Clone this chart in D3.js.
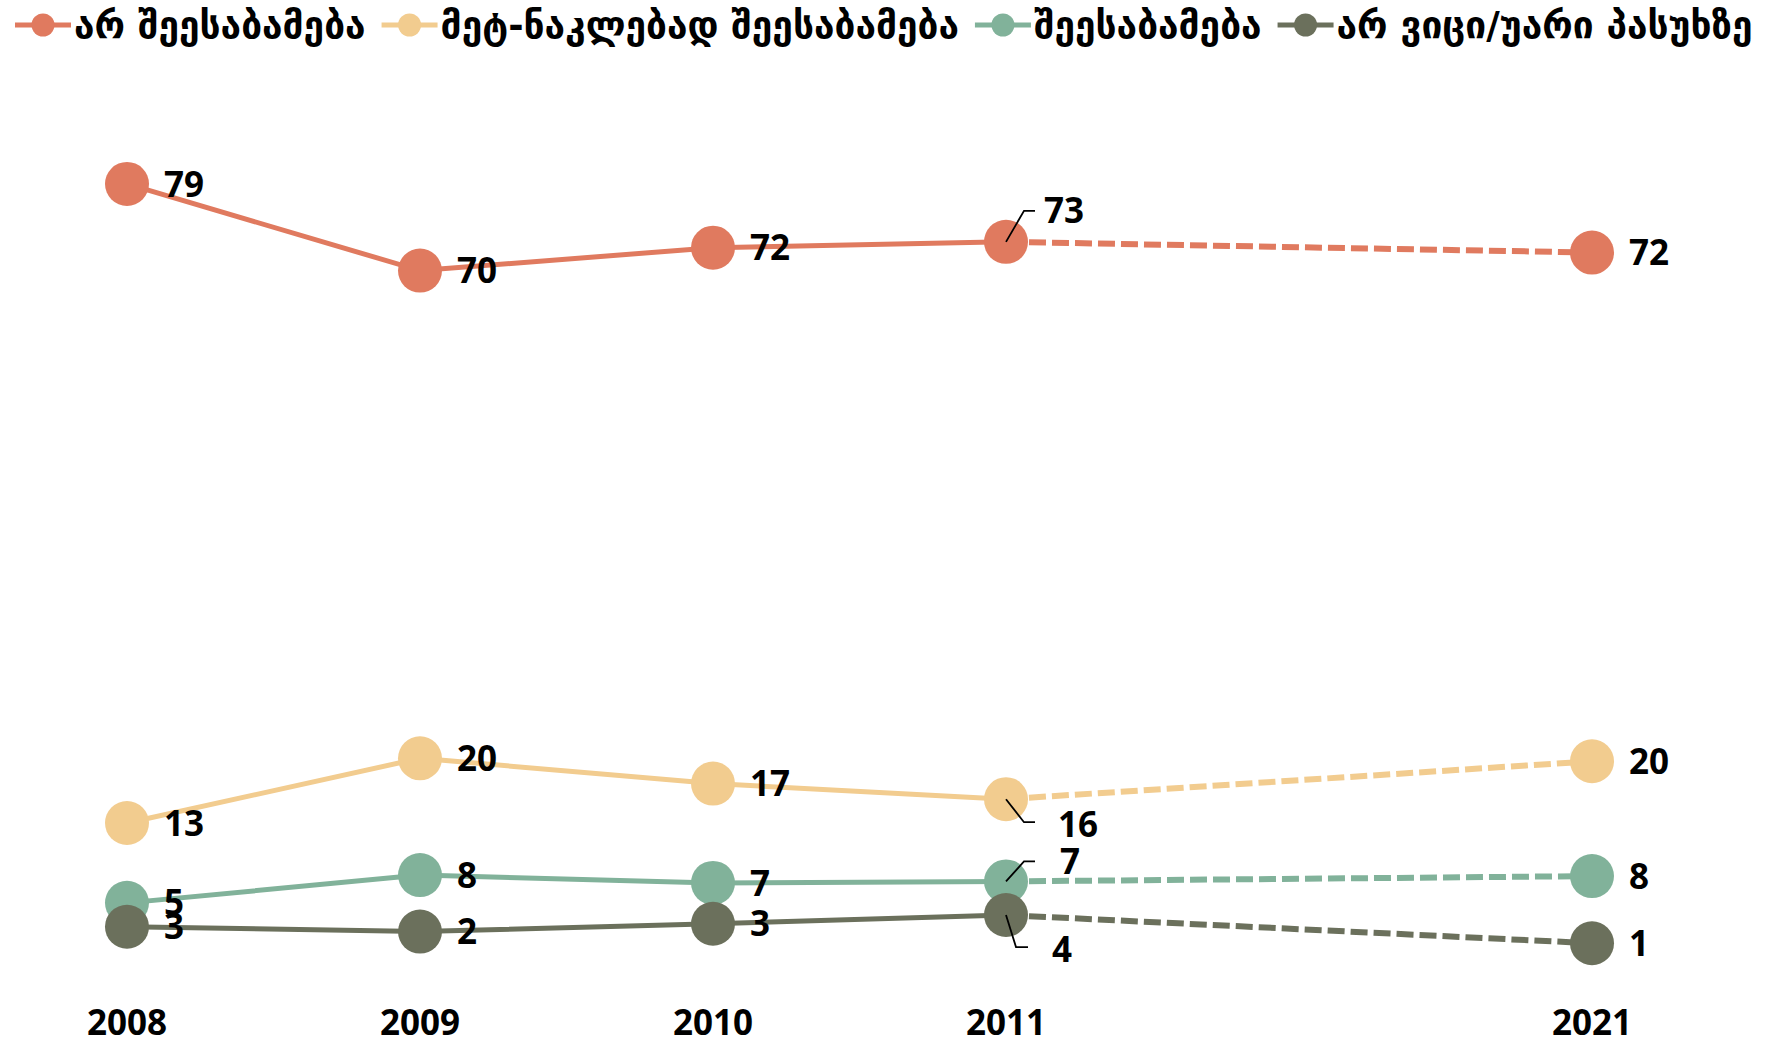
<!DOCTYPE html>
<html>
<head>
  <meta charset="UTF-8">
  <title>Chart</title>
  <style>
    body {
      margin: 0;
      padding: 0;
      background: #fff;
    }
    svg {
      display: block;
    }
    .lbl {
      font-family: "Open Sans", "DejaVu Sans", sans-serif;
      font-weight: 700;
      font-size: 35px;
      fill: #000;
    }
    .leg {
      font-family: "DejaVu Sans", sans-serif;
      font-weight: 700;
      font-size: 30px;
      fill: #000;
    }
  </style>
</head>
<body>
  <svg></svg>

  <script src="https://d3js.org/d3.v7.min.js"></script>
  <script>
    let width = 1779, height = 1041;

    // data (labels show rounded values)
    let years = [2008, 2009, 2010, 2011, 2021];
    let seriesNames = ["არ შეესაბამება", "მეტ-ნაკლებად შეესაბამება", "შეესაბამება", "არ ვიცი/უარი პასუხზე"];
    let seriesColors = ["#E07A5F", "#F2CC8F", "#81B29A", "#6B705C"];
    let notMatch = [79.0, 70.1, 72.45, 73.05, 71.95];
    let moreOrLess = [13.35, 20.0, 17.4, 15.8, 19.7];
    let match = [5.15, 8.0, 7.2, 7.35, 7.9];
    let dontKnow = [2.7, 2.2, 3.0, 3.9, 1.0];
    let allValues = [notMatch, moreOrLess, match, dontKnow];

    // 2011 labels are pulled out with a small leader line
    let leaders = [
      { dy: -31, elbow: 18, end: 29, text: 38 },
      { dy: 23, elbow: 18, end: 29, text: 52 },
      { dy: -20, elbow: 18, end: 29, text: 54 },
      { dy: 32, elbow: 10, end: 22, text: 46 }
    ];

    let svg = d3.select("svg")
        .attr("width", width)
        .attr("height", height);

    // 2021 sits two steps after 2011
    let x = d3.scaleLinear()
        .domain([2008, 2011, 2021])
        .range([127, 1006, 1592]);

    let y = d3.scaleLinear()
        .domain([0, 80])
        .range([953, 174.2]);

    let line = d3.line()
        .x(d => x(d.year))
        .y(d => y(d.value));

    let series = allValues.map((vals, i) => ({
      name: seriesNames[i],
      color: seriesColors[i],
      points: vals.map((v, j) => ({ year: years[j], value: v }))
    }));

    // x labels
    svg.append("g")
      .selectAll("text")
      .data(years)
      .enter()
      .append("text")
      .attr("class", "lbl")
      .attr("x", d => x(d))
      .attr("y", 1035)
      .attr("text-anchor", "middle")
      .text(d => d);

    let g = svg.append("g");

    series.forEach(s => {
      let solid = s.points.filter(p => p.year <= 2011);
      let dashed = s.points.filter(p => p.year >= 2011);

      g.append("path")
        .datum(solid)
        .attr("d", line)
        .attr("fill", "none")
        .attr("stroke", s.color)
        .attr("stroke-width", 5);

      g.append("path")
        .datum(dashed)
        .attr("d", line)
        .attr("fill", "none")
        .attr("stroke", s.color)
        .attr("stroke-width", 6)
        .attr("stroke-dasharray", "17,6");
    });

    series.forEach(s => {
      g.append("g")
        .selectAll("circle")
        .data(s.points)
        .enter()
        .append("circle")
        .attr("cx", d => x(d.year))
        .attr("cy", d => y(d.value))
        .attr("r", 22)
        .attr("fill", s.color);
    });

    // value labels
    series.forEach((s, i) => {
      s.points.forEach(p => {
        let px = x(p.year), py = y(p.value);
        if (p.year == 2011) {
          let L = leaders[i];
          let ey = py + L.dy;
          g.append("path")
            .attr("d", "M" + px + "," + py + "L" + (px + L.elbow) + "," + ey + "H" + (px + L.end))
            .attr("fill", "none")
            .attr("stroke", "#000")
            .attr("stroke-width", 1.8);
          g.append("text")
            .attr("class", "lbl")
            .attr("x", px + L.text)
            .attr("y", ey + (L.dy > 0 ? 2 : 0))
            .attr("dy", "0.36em")
            .text(Math.round(p.value));
        } else {
          g.append("text")
            .attr("class", "lbl")
            .attr("x", px + 37)
            .attr("y", py)
            .attr("dy", "0.36em")
            .text(Math.round(p.value));
        }
      });
    });

    // legend
    let legend = svg.append("g").attr("transform", "translate(15,25)");
    let items = series.map(s => {
      let item = legend.append("g");
      item.append("line")
        .attr("x1", 0).attr("x2", 56)
        .attr("y1", 0).attr("y2", 0)
        .attr("stroke", s.color)
        .attr("stroke-width", 5);
      item.append("circle")
        .attr("cx", 28).attr("cy", 0).attr("r", 11.5)
        .attr("fill", s.color);
      let t = item.append("text")
        .attr("class", "leg")
        .attr("x", 59)
        .attr("y", 0)
        .attr("dy", "0.36em")
        .text(s.name);
      return { item: item, t: t };
    });

    // fit legend text to the width the row takes
    let textTotal = d3.sum(items, d => d.t.node().getComputedTextLength());
    let fs = 30 * 1454 / textTotal;
    items.forEach(d => d.t.style("font-size", fs + "px"));

    let lx = 0;
    items.forEach(d => {
      d.item.attr("transform", "translate(" + lx + ",0)");
      lx += 59 + d.t.node().getComputedTextLength() + 16;
    });
  </script>
</body>
</html>
